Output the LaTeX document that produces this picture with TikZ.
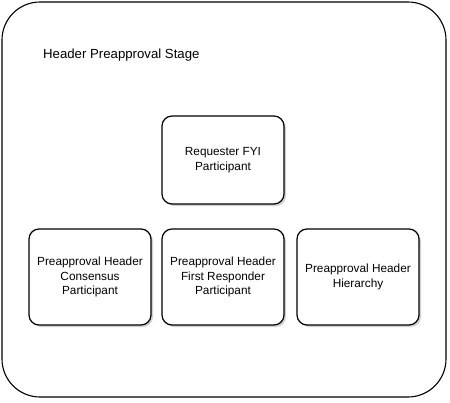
\documentclass[tikz,border=0pt]{standalone}
\usepackage{fontspec}
\setmainfont{Liberation Sans}
\usetikzlibrary{shadows}
\begin{document}
\begin{tikzpicture}[x=1pt,y=-1pt, line join=round, line cap=round]
			\tikzset{part/.style={draw, line width=1.2pt, rounded corners=10pt, minimum width=122pt, align=center, inner sep=0pt,
					font=\fontsize{11.8}{14.5}\selectfont,
					drop shadow={shadow xshift=2pt, shadow yshift=-2pt, fill=black!30, opacity=0.6}, fill=white}}
			\def\bw{122} \def\ytop{160} \def\ybot{277} % centres
			
			\useasboundingbox (0,0) rectangle (450,402);
			\draw[line width=1.1pt, rounded corners=38pt] (2,2) rectangle (446,397);
			\node[anchor=base west, inner sep=0pt, font=\fontsize{13.2}{16}\selectfont] (stage) at (43,58) {Header Preapproval Stage};
			
			\node[part, minimum height=88pt] (fyi) at (223,\ytop) {Requester FYI\\Participant};
			\node[part, minimum height=96pt] (consensus) at (90,\ybot) {Preapproval Header\\Consensus\\Participant};
			\node[part, minimum height=96pt] (first) at (223,\ybot) {Preapproval Header\\First Responder\\Participant};
			\node[part, minimum height=96pt] (hier) at (358,\ybot) {Preapproval Header\\Hierarchy};
		\end{tikzpicture}
\end{document}
